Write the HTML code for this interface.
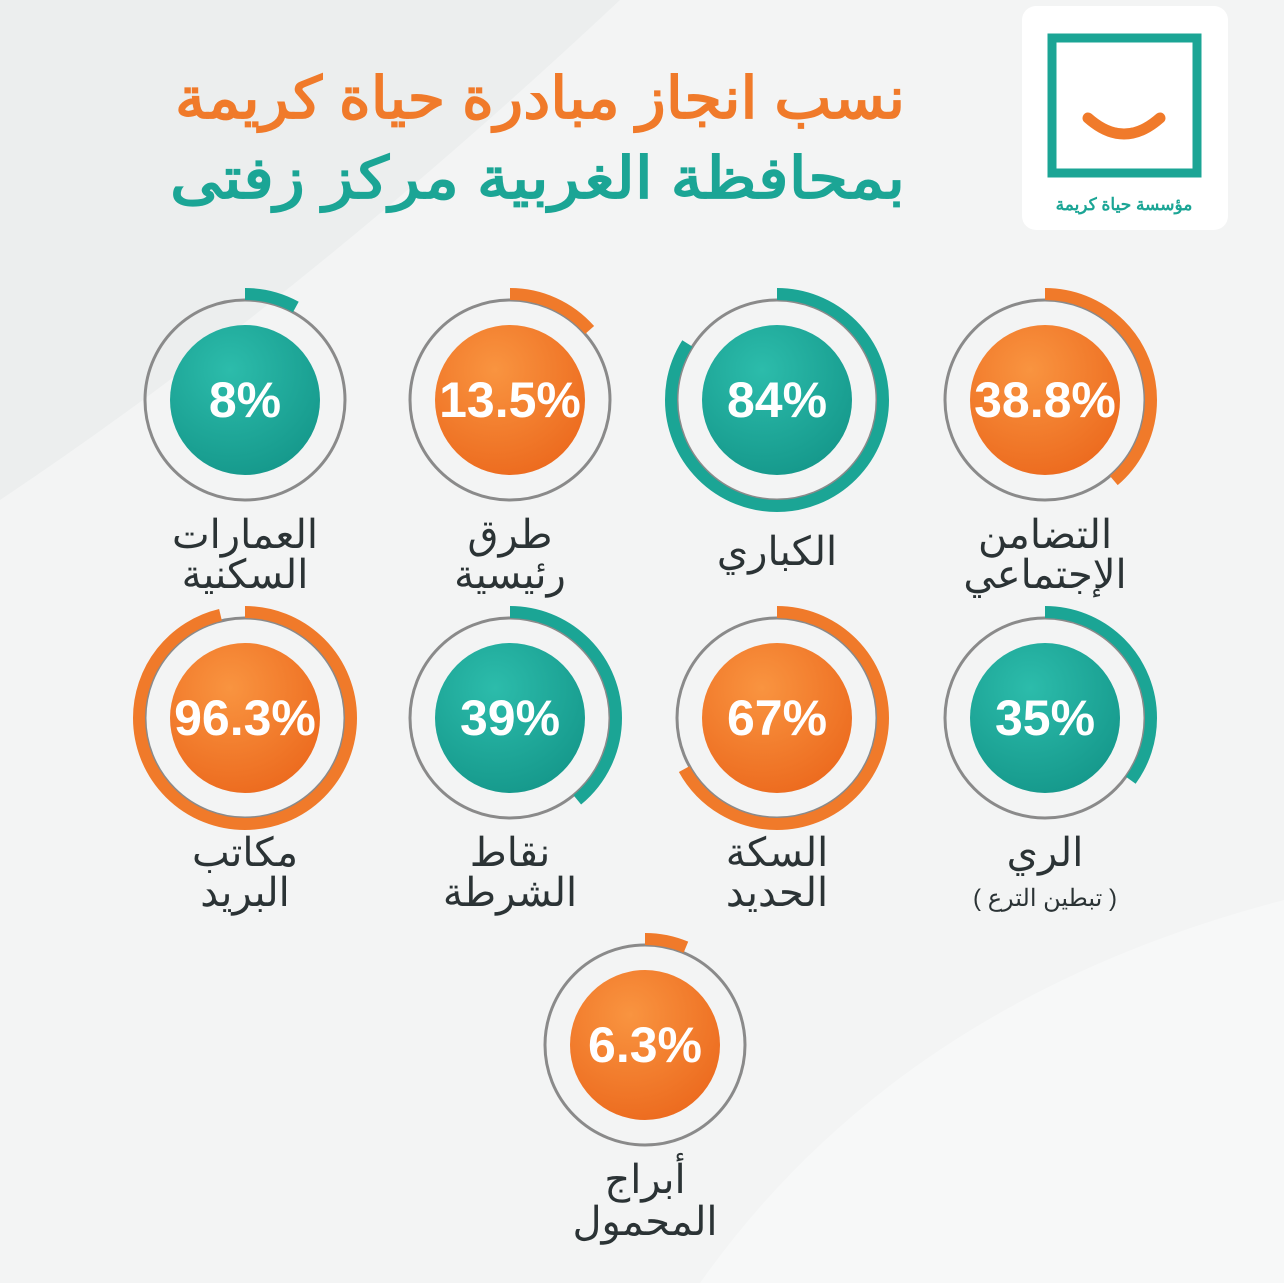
<!DOCTYPE html>
<html><head><meta charset="utf-8"><style>
html,body{margin:0;padding:0;background:#f3f4f4}
svg{display:block}
</style></head><body>
<svg width="1284" height="1283" viewBox="0 0 1284 1283" xmlns="http://www.w3.org/2000/svg">
<defs>
<radialGradient id="gt" cx="40%" cy="30%" r="75%"><stop offset="0" stop-color="#2cbcab"/><stop offset="1" stop-color="#15988b"/></radialGradient>
<radialGradient id="go" cx="40%" cy="30%" r="75%"><stop offset="0" stop-color="#f99440"/><stop offset="1" stop-color="#ec6a1e"/></radialGradient>
</defs>
<rect width="1284" height="1283" fill="#f3f4f4"/>
<path d="M0 0 L620 0 Q300 300 0 500 Z" fill="#eceeee"/>
<path d="M700 1283 Q900 1000 1284 900 L1284 1283 Z" fill="#f7f8f8"/>
<!-- logo -->
<rect x="1022" y="6" width="206" height="224" rx="14" fill="#fff"/>
<rect x="1052" y="38" width="145" height="135" fill="none" stroke="#1ba595" stroke-width="9"/>
<path d="M1088 118 Q1124 150 1160 118" fill="none" stroke="#f07a2a" stroke-width="11" stroke-linecap="round"/>
<text x="1124" y="210" font-family="'Liberation Sans','Noto Sans CJK SC',sans-serif" font-size="17" font-weight="bold" fill="#1ba595" text-anchor="middle">مؤسسة حياة كريمة</text>
<!-- title -->
<text x="905" y="118" font-family="'Liberation Sans','Noto Sans CJK SC',sans-serif" font-size="58" font-weight="bold" fill="#f07a2a" text-anchor="start" direction="rtl" textLength="730" lengthAdjust="spacingAndGlyphs">نسب انجاز مبادرة حياة كريمة</text>
<text x="905" y="198" font-family="'Liberation Sans','Noto Sans CJK SC',sans-serif" font-size="58" font-weight="bold" fill="#1ba595" text-anchor="start" direction="rtl" textLength="735" lengthAdjust="spacingAndGlyphs">بمحافظة الغربية مركز زفتى</text>
<g font-family="'Liberation Sans','Noto Sans CJK SC',sans-serif" font-weight="bold">
<g transform="translate(245,400)">
<circle r="100" fill="none" stroke="#8a8a8a" stroke-width="3"/>
<circle r="106" fill="none" stroke="#1ba595" stroke-width="12" stroke-dasharray="53 700" transform="rotate(-90)"/>
<circle r="75" fill="url(#gt)"/>
<text y="17" font-size="50" fill="#fff" text-anchor="middle">8%</text></g>
<g transform="translate(510,400)">
<circle r="100" fill="none" stroke="#8a8a8a" stroke-width="3"/>
<circle r="106" fill="none" stroke="#f07a2a" stroke-width="12" stroke-dasharray="90 700" transform="rotate(-90)"/>
<circle r="75" fill="url(#go)"/>
<text y="17" font-size="50" fill="#fff" text-anchor="middle">13.5%</text></g>
<g transform="translate(777,400)">
<circle r="100" fill="none" stroke="#8a8a8a" stroke-width="3"/>
<circle r="106" fill="none" stroke="#1ba595" stroke-width="12" stroke-dasharray="559 700" transform="rotate(-90)"/>
<circle r="75" fill="url(#gt)"/>
<text y="17" font-size="50" fill="#fff" text-anchor="middle">84%</text></g>
<g transform="translate(1045,400)">
<circle r="100" fill="none" stroke="#8a8a8a" stroke-width="3"/>
<circle r="106" fill="none" stroke="#f07a2a" stroke-width="12" stroke-dasharray="258 700" transform="rotate(-90)"/>
<circle r="75" fill="url(#go)"/>
<text y="17" font-size="50" fill="#fff" text-anchor="middle">38.8%</text></g>
<g transform="translate(245,718)">
<circle r="100" fill="none" stroke="#8a8a8a" stroke-width="3"/>
<circle r="106" fill="none" stroke="#f07a2a" stroke-width="12" stroke-dasharray="641 700" transform="rotate(-90)"/>
<circle r="75" fill="url(#go)"/>
<text y="17" font-size="50" fill="#fff" text-anchor="middle">96.3%</text></g>
<g transform="translate(510,718)">
<circle r="100" fill="none" stroke="#8a8a8a" stroke-width="3"/>
<circle r="106" fill="none" stroke="#1ba595" stroke-width="12" stroke-dasharray="260 700" transform="rotate(-90)"/>
<circle r="75" fill="url(#gt)"/>
<text y="17" font-size="50" fill="#fff" text-anchor="middle">39%</text></g>
<g transform="translate(777,718)">
<circle r="100" fill="none" stroke="#8a8a8a" stroke-width="3"/>
<circle r="106" fill="none" stroke="#f07a2a" stroke-width="12" stroke-dasharray="446 700" transform="rotate(-90)"/>
<circle r="75" fill="url(#go)"/>
<text y="17" font-size="50" fill="#fff" text-anchor="middle">67%</text></g>
<g transform="translate(1045,718)">
<circle r="100" fill="none" stroke="#8a8a8a" stroke-width="3"/>
<circle r="106" fill="none" stroke="#1ba595" stroke-width="12" stroke-dasharray="233 700" transform="rotate(-90)"/>
<circle r="75" fill="url(#gt)"/>
<text y="17" font-size="50" fill="#fff" text-anchor="middle">35%</text></g>
<g transform="translate(645,1045)">
<circle r="100" fill="none" stroke="#8a8a8a" stroke-width="3"/>
<circle r="106" fill="none" stroke="#f07a2a" stroke-width="12" stroke-dasharray="42 700" transform="rotate(-90)"/>
<circle r="75" fill="url(#go)"/>
<text y="17" font-size="50" fill="#fff" text-anchor="middle">6.3%</text></g>
</g>
<g font-family="'Liberation Sans','Noto Sans CJK SC',sans-serif" font-size="40" fill="#2b3335" text-anchor="middle" direction="rtl">
<text x="245" y="548">العمارات</text><text x="245" y="588">السكنية</text>
<text x="510" y="548">طرق</text><text x="510" y="588">رئيسية</text>
<text x="777" y="565">الكباري</text>
<text x="1045" y="548">التضامن</text><text x="1045" y="588">الإجتماعي</text>
<text x="245" y="866">مكاتب</text><text x="245" y="906">البريد</text>
<text x="510" y="866">نقاط</text><text x="510" y="906">الشرطة</text>
<text x="777" y="866">السكة</text><text x="777" y="906">الحديد</text>
<text x="1045" y="866">الري</text><text x="1045" y="906" font-size="24">( تبطين الترع )</text>
<text x="645" y="1193">أبراج</text><text x="645" y="1235">المحمول</text>
</g>
</svg>
</body></html>
